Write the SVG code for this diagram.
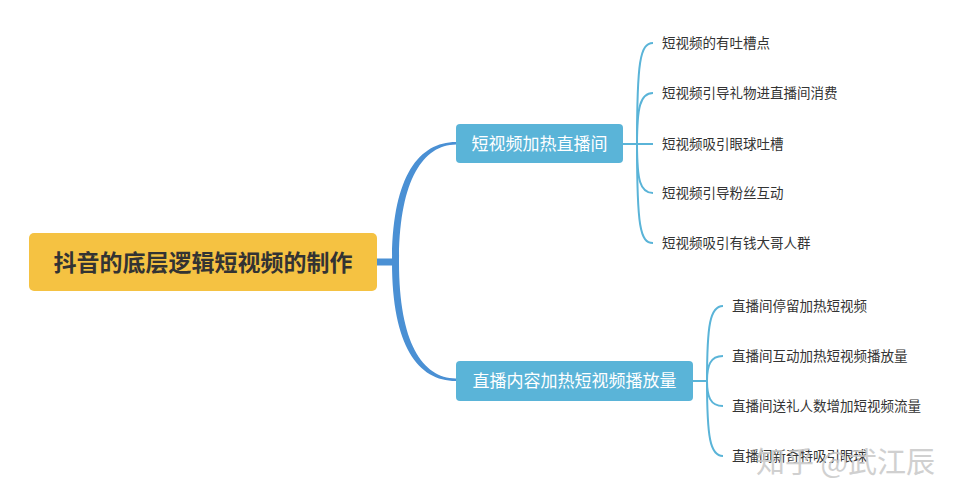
<svg xmlns="http://www.w3.org/2000/svg" width="959" height="500" viewBox="0 0 959 500">
<style>
text{font-family:"Noto Sans CJK SC","Noto Sans",sans-serif;}
.root{fill:#333333;font-size:23px;font-weight:bold;}
.sub{fill:#ffffff;font-size:17px;}
.leaf{fill:#333333;font-size:13.5px;}
.l1{fill:none;stroke:#5AB4D8;stroke-width:2;}
.wm{fill:#c8c8c8;font-size:29px;opacity:0.85;}
</style>
<rect width="959" height="500" fill="#ffffff"/>
<g id="connectors">
<rect x="376" y="258.5" width="20" height="7" fill="#4A90D4"/>
<path d="M392,262 C392,178 418,142 456,142 L456,144.5 C422,145 399,182 399,262 Z" fill="#4A90D4"/>
<path d="M392,262 C392,346 418,381 456,381 L456,378.5 C422,378 399,342 399,262 Z" fill="#4A90D4"/>
<path class="l1" d="M623,144 L653,144"/>
<path class="l1" d="M637,144 C637,62 640,43 653,43"/>
<path class="l1" d="M637,144 C637,108 640,93 653,93"/>
<path class="l1" d="M637,144 C637,180 640,193 653,193"/>
<path class="l1" d="M637,144 C637,226 640,243 653,243"/>
<path class="l1" d="M693,381 L707,381"/>
<path class="l1" d="M707,381 C707,325 710,306 723,306"/>
<path class="l1" d="M707,381 C707,366 710,356 723,356"/>
<path class="l1" d="M707,381 C707,396 710,406 723,406"/>
<path class="l1" d="M707,381 C707,437 710,456 723,456"/>
</g>
<g id="root">
<rect x="29" y="233" width="348" height="58" rx="5" fill="#F5C242"/>
<text class="root" x="203" y="270.5" text-anchor="middle">抖音的底层逻辑短视频的制作</text>
</g>
<g id="n1">
<rect x="456" y="124" width="167" height="39" rx="4" fill="#5AB4D8"/>
<text class="sub" x="539.5" y="149.5" text-anchor="middle">短视频加热直播间</text>
</g>
<g id="n2">
<rect x="456" y="361" width="237" height="40" rx="4" fill="#5AB4D8"/>
<text class="sub" x="574.5" y="387" text-anchor="middle">直播内容加热短视频播放量</text>
</g>
<g id="leaf1"><text class="leaf" x="662" y="48">短视频的有吐槽点</text></g>
<g id="leaf2"><text class="leaf" x="662" y="98">短视频引导礼物进直播间消费</text></g>
<g id="leaf3"><text class="leaf" x="662" y="149">短视频吸引眼球吐槽</text></g>
<g id="leaf4"><text class="leaf" x="662" y="198">短视频引导粉丝互动</text></g>
<g id="leaf5"><text class="leaf" x="662" y="248">短视频吸引有钱大哥人群</text></g>
<g id="leaf6"><text class="leaf" x="732" y="311">直播间停留加热短视频</text></g>
<g id="leaf7"><text class="leaf" x="732" y="361">直播间互动加热短视频播放量</text></g>
<g id="leaf8"><text class="leaf" x="732" y="411">直播间送礼人数增加短视频流量</text></g>
<g id="leaf9"><text class="leaf" x="732" y="461">直播间新奇特吸引眼球</text></g>
<text class="wm" x="756" y="473">知乎 @武江辰</text>
</svg>
